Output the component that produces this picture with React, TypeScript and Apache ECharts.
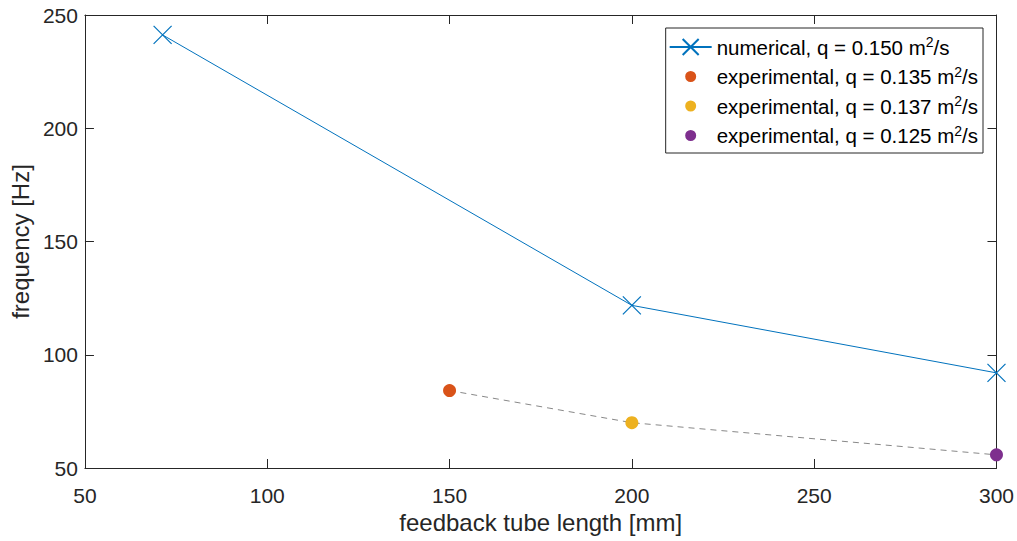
import React, { useEffect, useRef } from "react";
import * as echarts from "echarts";

const numX = [71.3, 200, 300];
const numY = [241.2, 121.8, 92];
const expX = [150, 200, 300];
const expY = [84.2, 70, 55.8];
const expNames = [
  "experimental, q = 0.135 m{sup|2}/s",
  "experimental, q = 0.137 m{sup|2}/s",
  "experimental, q = 0.125 m{sup|2}/s",
];
const expColors = ["#D95319", "#EDB120", "#7E2F8E"];
const numName = "numerical, q = 0.150 m{sup|2}/s";

const FONT = "Liberation Sans";
const DOT_ICON =
  "path://M0,0L0,0ZM42,20L42,20ZM15.5,10a5.5,5.5 0 1,0 11,0a5.5,5.5 0 1,0 -11,0Z";

export default function App() {
  const ref = useRef<HTMLDivElement>(null);
  useEffect(() => {
    const chart = echarts.init(ref.current!, null, { renderer: "svg" });
    const axisCommon = {
      axisLine: { show: true, onZero: false, lineStyle: { color: "#262626", width: 1 } },
      axisTick: { show: true, inside: true, length: 9, lineStyle: { color: "#262626" } },
      splitLine: { show: false },
    };
    const series: any[] = [
      {
        name: numName,
        type: "line",
        data: numX.map((x, i) => [x, numY[i]]),
        symbol: "path://M0,0L10,10M10,0L0,10",
        symbolSize: 18,
        lineStyle: { color: "#0072BD", width: 1 },
        itemStyle: { color: "none", borderColor: "#0072BD", borderWidth: 1.2 },
        z: 5,
      },
      {
        name: "expline",
        type: "line",
        data: expX.map((x, i) => [x, expY[i]]),
        symbol: "none",
        lineStyle: { color: "#888888", width: 1, type: [6, 5] },
        z: 2,
      },
      ...expNames.map((n, i) => ({
        name: n,
        type: "scatter",
        data: [[expX[i], expY[i]]],
        symbol: "circle",
        symbolSize: 13,
        itemStyle: { color: expColors[i], opacity: 1 },
        z: 4,
      })),
    ];
    chart.setOption({
      animation: false,
      backgroundColor: "#ffffff",
      textStyle: { fontFamily: FONT },
      grid: { left: 83, top: 15, right: 20, bottom: 73, containLabel: false },
      legend: {
        data: [
          { name: numName },
          ...expNames.map((n, i) => ({
            name: n,
            icon: DOT_ICON,
            itemStyle: { color: expColors[i], opacity: 1 },
          })),
        ],
        orient: "vertical",
        right: 34,
        top: 28,
        backgroundColor: "#ffffff",
        borderColor: "#262626",
        borderWidth: 1,
        borderRadius: 0,
        padding: [7, 5, 7, 3],
        itemGap: 7,
        itemWidth: 42,
        itemHeight: 20,
        formatter: (name: string) => name,
        textStyle: {
          fontFamily: FONT,
          fontSize: 20.5,
          color: "#000000",
          rich: {
            sup: { fontSize: 14, verticalAlign: "top", padding: [0, 0, 10, 0], fontFamily: FONT, color: "#000" },
          },
        },
      },
      xAxis: [
        {
          type: "value",
          min: 50,
          max: 300,
          interval: 50,
          name: "feedback tube length [mm]",
          nameLocation: "middle",
          nameGap: 42,
          nameTextStyle: { fontFamily: FONT, fontSize: 24, color: "#262626" },
          axisLabel: { fontFamily: FONT, fontSize: 21, color: "#262626", margin: 17 },
          ...axisCommon,
        },
        {
          type: "value",
          position: "top",
          min: 50,
          max: 300,
          interval: 50,
          axisLabel: { show: false },
          ...axisCommon,
        },
      ],
      yAxis: [
        {
          type: "value",
          min: 50,
          max: 250,
          interval: 50,
          name: "frequency [Hz]",
          nameLocation: "middle",
          nameGap: 49,
          nameTextStyle: { fontFamily: FONT, fontSize: 24, color: "#262626" },
          axisLabel: { fontFamily: FONT, fontSize: 21, color: "#262626", margin: 7 },
          ...axisCommon,
        },
        {
          type: "value",
          position: "right",
          min: 50,
          max: 250,
          interval: 50,
          axisLabel: { show: false },
          ...axisCommon,
        },
      ],
      series,
    });
    return () => chart.dispose();
  }, []);
  return (
    <div
      ref={ref}
      style={{ position: "fixed", left: 0, top: 0, width: 1017, height: 541, background: "#fff" }}
    />
  );
}
